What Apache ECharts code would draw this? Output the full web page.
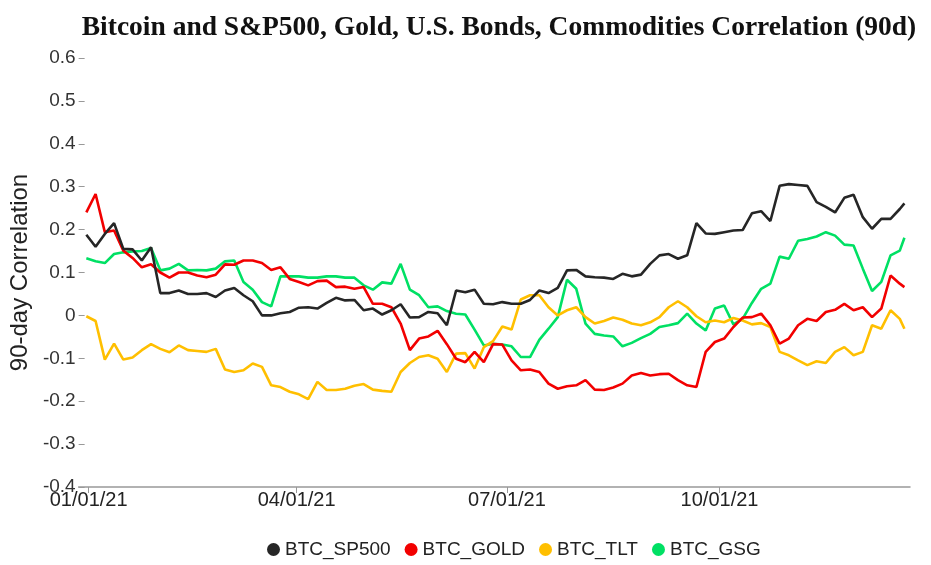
<!DOCTYPE html>
<html>
<head>
<meta charset="utf-8">
<script src="https://cdn.jsdelivr.net/npm/echarts@6/dist/echarts.min.js"></script>
<style>html,body{margin:0;padding:0;background:#fff}#c{width:931px;height:565px}</style>
</head>
<body>
<div id="c"></div>
<script>
var dates = ["2020-12-31","2021-01-04","2021-01-08","2021-01-12","2021-01-16","2021-01-20","2021-01-24","2021-01-28","2021-02-01","2021-02-05","2021-02-09","2021-02-13","2021-02-17","2021-02-21","2021-02-25","2021-03-01","2021-03-05","2021-03-09","2021-03-13","2021-03-17","2021-03-21","2021-03-25","2021-03-29",
"2021-04-02","2021-04-06","2021-04-10","2021-04-14","2021-04-18","2021-04-22","2021-04-26","2021-04-30","2021-05-04","2021-05-08","2021-05-12","2021-05-16","2021-05-20","2021-05-24","2021-05-28","2021-06-01","2021-06-05","2021-06-09","2021-06-13","2021-06-17","2021-06-21","2021-06-25",
"2021-06-29","2021-07-03","2021-07-07","2021-07-11","2021-07-15","2021-07-19","2021-07-23","2021-07-27","2021-07-31","2021-08-04","2021-08-08","2021-08-12","2021-08-16","2021-08-20","2021-08-24","2021-08-28","2021-09-01","2021-09-05","2021-09-09","2021-09-13","2021-09-17","2021-09-21","2021-09-25",
"2021-09-29","2021-10-03","2021-10-07","2021-10-11","2021-10-15","2021-10-19","2021-10-23","2021-10-27","2021-10-31","2021-11-04","2021-11-08","2021-11-12","2021-11-16","2021-11-20","2021-11-24","2021-11-28","2021-12-02","2021-12-06","2021-12-10","2021-12-14","2021-12-18","2021-12-20"];

var btcSp500 = [0.188,0.160,0.190,0.215,0.155,0.154,0.128,0.159,0.052,0.052,0.058,0.050,0.050,0.052,0.043,0.058,0.064,0.047,0.033,0.000,0.000,0.005,0.008,
0.018,0.019,0.016,0.029,0.041,0.035,0.036,0.012,0.016,0.002,0.012,0.026,-0.005,-0.004,0.008,0.005,-0.023,0.058,0.054,0.060,0.027,0.026,
0.031,0.027,0.027,0.036,0.058,0.052,0.064,0.105,0.106,0.091,0.089,0.088,0.085,0.097,0.091,0.095,0.120,0.140,0.143,0.132,0.140,0.215,0.191,
0.190,0.194,0.198,0.199,0.238,0.243,0.220,0.302,0.306,0.304,0.302,0.264,0.253,0.240,0.274,0.281,0.229,0.202,0.225,0.225,0.248,0.261];

var btcGold = [0.240,0.283,0.194,0.198,0.151,0.134,0.112,0.119,0.100,0.088,0.100,0.100,0.093,0.089,0.095,0.119,0.118,0.128,0.128,0.122,0.106,0.112,0.085,
0.078,0.070,0.080,0.081,0.066,0.067,0.062,0.066,0.027,0.027,0.019,-0.019,-0.081,-0.054,-0.049,-0.036,-0.067,-0.101,-0.109,-0.085,-0.109,-0.067,
-0.068,-0.105,-0.128,-0.126,-0.132,-0.159,-0.171,-0.165,-0.163,-0.151,-0.173,-0.174,-0.168,-0.159,-0.140,-0.134,-0.140,-0.137,-0.136,-0.151,-0.163,-0.167,-0.085,
-0.062,-0.054,-0.027,-0.005,-0.004,0.004,-0.023,-0.066,-0.054,-0.023,-0.008,-0.013,0.008,0.013,0.027,0.012,0.019,-0.004,0.016,0.093,0.074,0.066];

var btcTlt = [-0.002,-0.013,-0.103,-0.066,-0.103,-0.098,-0.081,-0.067,-0.078,-0.086,-0.070,-0.081,-0.083,-0.085,-0.078,-0.126,-0.132,-0.128,-0.112,-0.120,-0.163,-0.167,-0.178,
-0.184,-0.195,-0.155,-0.174,-0.174,-0.171,-0.164,-0.160,-0.173,-0.176,-0.178,-0.132,-0.111,-0.097,-0.093,-0.101,-0.132,-0.089,-0.088,-0.124,-0.074,-0.060,
-0.026,-0.033,0.037,0.047,0.047,0.019,0.000,0.012,0.019,-0.004,-0.019,-0.013,-0.005,-0.010,-0.019,-0.023,-0.016,-0.004,0.019,0.033,0.019,-0.002,-0.016,
-0.012,-0.016,-0.006,-0.012,-0.021,-0.018,-0.027,-0.085,-0.093,-0.105,-0.116,-0.107,-0.111,-0.085,-0.074,-0.093,-0.085,-0.023,-0.031,0.012,-0.008,-0.031];

var btcGsg = [0.133,0.126,0.122,0.143,0.147,0.149,0.150,0.157,0.105,0.109,0.120,0.105,0.106,0.105,0.109,0.126,0.128,0.078,0.060,0.031,0.021,0.091,0.091,
0.091,0.088,0.088,0.091,0.091,0.088,0.088,0.070,0.060,0.077,0.074,0.120,0.060,0.047,0.019,0.021,0.010,0.004,0.002,-0.033,-0.070,-0.066,
-0.068,-0.072,-0.097,-0.097,-0.057,-0.031,-0.004,0.083,0.062,-0.019,-0.043,-0.047,-0.049,-0.072,-0.064,-0.053,-0.043,-0.027,-0.023,-0.018,0.004,-0.019,-0.035,
0.016,0.023,-0.021,-0.008,0.029,0.062,0.074,0.137,0.132,0.174,0.178,0.184,0.194,0.186,0.165,0.163,0.109,0.057,0.078,0.140,0.151,0.181];

var seriesNames = ["BTC_SP500","BTC_GOLD","BTC_TLT","BTC_GSG"];
var seriesColors = ["#262626","#f20000","#ffbf00","#00e064"];
var seriesValues = [btcSp500, btcGold, btcTlt, btcGsg];
var xTickDates = ["2021-01-01","2021-04-01","2021-07-01","2021-10-01"];

function ts(s){ var p=s.split('-'); return Date.UTC(+p[0], +p[1]-1, +p[2]); }
var xTicks = xTickDates.map(ts);

var chart = echarts.init(document.getElementById('c'), null, {renderer:'canvas'});
chart.setOption({
  animation:false,
  title:{
    text:'Bitcoin and S&P500, Gold, U.S. Bonds, Commodities Correlation (90d)',
    left:494, top:9, textAlign:'center',
    textStyle:{fontFamily:'Liberation Serif', fontWeight:'bold', fontSize:27.5, color:'#111'}
  },
  legend:{
    data:seriesNames,
    left:262, top:535,
    icon:'circle', itemWidth:13, itemHeight:13, itemGap:14,
    textStyle:{fontFamily:'Liberation Sans', fontSize:19, color:'#222'}
  },
  grid:{left:77, right:21, top:58, bottom:78, containLabel:false},
  xAxis:{
    type:'value',
    min: Date.UTC(2020,11,27,16),
    max: Date.UTC(2021,11,22,10),
    axisLine:{show:true, onZero:false, lineStyle:{color:'#999', width:1.5}},
    axisTick:{show:true, customValues:xTicks, length:6, lineStyle:{color:'#999'}},
    axisLabel:{
      customValues:xTicks, margin:3,
      fontFamily:'Liberation Sans', fontSize:20, color:'#222',
      formatter:function(v){ var d=new Date(v); var m=d.getUTCMonth()+1, dd=d.getUTCDate(), y=d.getUTCFullYear()%100;
        function p(n){return (n<10?'0':'')+n;} return p(m)+'/'+p(dd)+'/'+p(y); }
    },
    splitLine:{show:false}
  },
  yAxis:{
    type:'value', min:-0.4, max:0.6, interval:0.1,
    name:'90-day Correlation', nameLocation:'middle', nameGap:30, nameRotate:90,
    nameTextStyle:{fontFamily:'Liberation Sans', fontSize:24, color:'#222'},
    axisLine:{show:false},
    axisTick:{show:true, inside:true, length:6, lineStyle:{color:'#999'}},
    axisLabel:{margin:3, fontFamily:'Liberation Sans', fontSize:19, color:'#333',
      formatter:function(v){ var r=Math.round(v*10)/10; return r===0?'0':r.toFixed(1); }},
    splitLine:{show:false}
  },
  series: seriesNames.map(function(n,i){
    return {
      name:n, type:'line', showSymbol:false, symbol:'circle',
      color:seriesColors[i],
      lineStyle:{width:2.6, color:seriesColors[i]},
      data: dates.map(function(d,k){ return [ts(d), seriesValues[i][k]]; }),
      z: 10 - i
    };
  })
});
</script>
</body>
</html>
